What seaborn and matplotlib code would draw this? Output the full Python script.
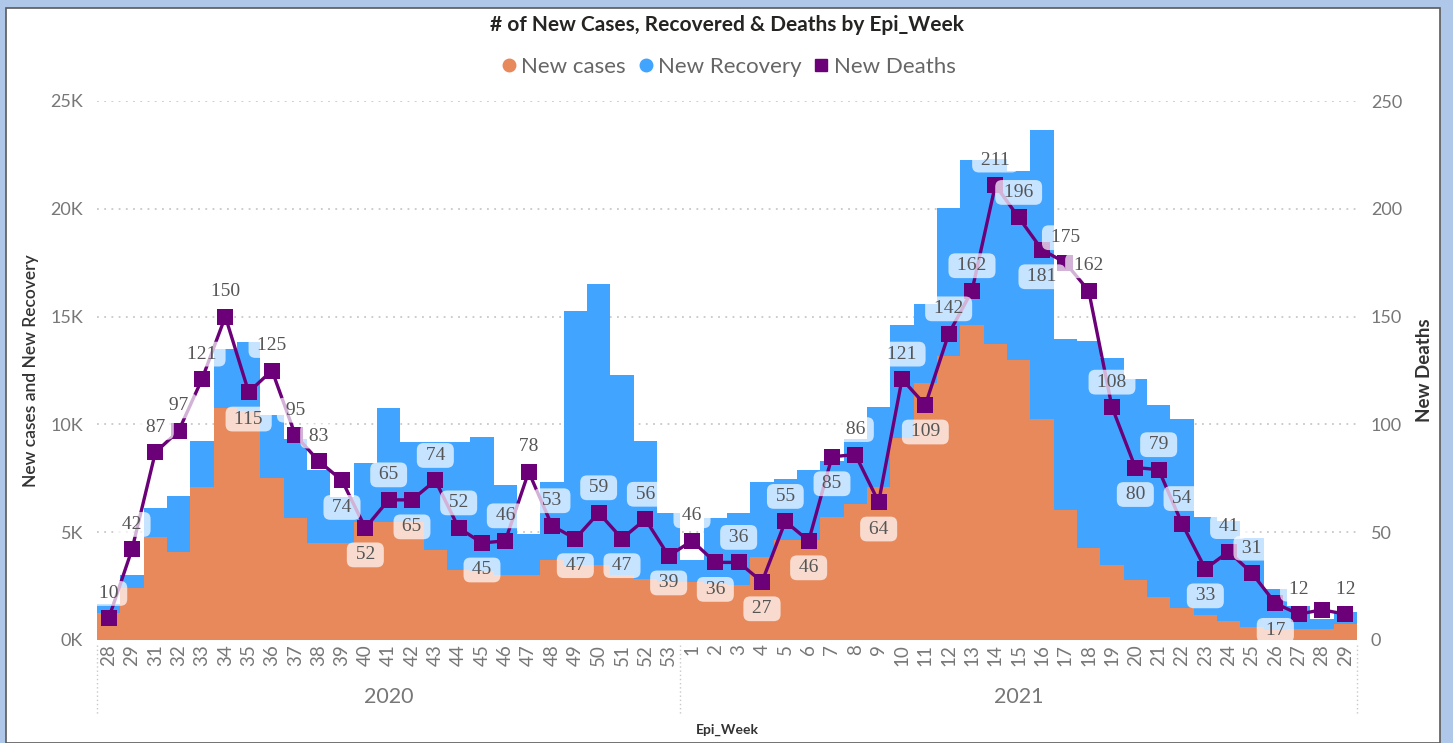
import numpy as np
import pandas as pd
import matplotlib
matplotlib.use("Agg")
import matplotlib.pyplot as plt
import matplotlib.transforms as mtransforms
from matplotlib.lines import Line2D
from matplotlib.patches import Rectangle
from matplotlib.ticker import FuncFormatter, MultipleLocator
import seaborn as sns

# Data (weekly values)
weeks_2020 = [28, 29, 31, 32, 33, 34, 35, 36, 37, 38, 39, 40, 41, 42, 43, 44,
              45, 46, 47, 48, 49, 50, 51, 52, 53]
weeks_2021 = list(range(1, 30))

cases_2020 = [1240, 2400, 4760, 4070, 7080, 10750, 10600, 7530, 5640, 4500,
              4500, 5490, 5490, 5480, 4160, 3250, 3200, 3000, 3000, 3700,
              3500, 3500, 3000, 2840, 2700]
recovery_2020 = [430, 600, 1380, 2610, 2170, 2750, 3240, 2910, 3660, 3400,
                 2150, 2710, 5290, 3690, 5010, 5950, 6200, 4170, 1900, 3650,
                 11740, 13030, 9270, 6400, 3200]
deaths_2020 = [10, 42, 87, 97, 121, 150, 115, 125, 95, 83, 74, 52, 65, 65, 74,
               52, 45, 46, 78, 53, 47, 59, 47, 56, 39]

cases_2021 = [2700, 2600, 2560, 3850, 4660, 4660, 5700, 6300, 7100, 9350,
              11900, 13160, 14600, 13750, 13000, 10240, 6050, 4270, 3500, 2770,
              1980, 1470, 1160, 860, 580, 450, 500, 500, 730]
recovery_2021 = [1030, 3070, 3340, 3480, 2790, 3240, 2600, 3000, 3700, 5250,
                 3700, 6900, 7670, 8550, 8740, 13430, 7910, 9580, 9580, 9330,
                 8920, 8800, 4540, 4640, 4140, 1920, 1100, 470, 580]
deaths_2021 = [46, 36, 36, 27, 55, 46, 85, 86, 64, 121, 109, 142, 162, 211, 196,
               181, 175, 162, 108, 80, 79, 54, 33, 41, 31, 17, 12, 14, 12]

# where each death label sits (u = above, d = below, n = no label)
label_side = list("uuuuuuduuudduduuduuududud" + "udududdududuuuuduuuduuduudunu")

years = ["2020"] * len(weeks_2020) + ["2021"] * len(weeks_2021)
df = pd.DataFrame({
    "year": years,
    "week": weeks_2020 + weeks_2021,
    "cases": cases_2020 + cases_2021,
    "recovery": recovery_2020 + recovery_2021,
    "deaths": deaths_2020 + deaths_2021,
})
df["key"] = df["year"] + "-" + df["week"].astype(str)
df["total"] = df["cases"] + df["recovery"]
df["pos"] = np.arange(len(df))

ORANGE = "#E8895C"
BLUE = "#41A4FF"
PURPLE = "#6B0078"
GREY = "#777777"
DARK = "#333333"

sns.set_theme(style="white")
plt.rcParams["font.family"] = ["Lato", "DejaVu Sans"]

fig = plt.figure(figsize=(14.53, 7.43), dpi=100)
fig.patch.set_facecolor("#AFC7E8")
fig.patches.append(Rectangle((6 / 1453, 0), 1434 / 1453, 1 - 8 / 743,
                             transform=fig.transFigure, facecolor="white",
                             edgecolor="#5a5a5a", linewidth=1.2, zorder=-10))

ax = fig.add_axes([97 / 1453, 1 - 640 / 743, 1260 / 1453, 539 / 743])
ax.patch.set_alpha(0)

# stacked columns: blue total first, orange cases over it
sns.barplot(data=df, x="key", y="total", color=BLUE, width=1.0, saturation=1,
            errorbar=None, linewidth=0, ax=ax)
sns.barplot(data=df, x="key", y="cases", color=ORANGE, width=1.0, saturation=1,
            errorbar=None, linewidth=0, ax=ax)

ax.set_xlim(-0.5, len(df) - 0.5)
ax.set_ylim(0, 25000)
ax.yaxis.set_major_locator(MultipleLocator(5000))
ax.yaxis.set_major_formatter(FuncFormatter(lambda v, _: f"{int(v / 1000)}K"))
ax.set_xticks(df["pos"])
ax.set_xticklabels(df["week"].astype(str), rotation=90, fontsize=13.5, color=GREY)
ax.tick_params(axis="y", labelsize=13, labelcolor=GREY, length=0, pad=10)
ax.tick_params(axis="x", length=0, pad=3)
ax.grid(axis="y", color="#c8c8c8", linestyle=(0, (1, 3)), linewidth=1.3)
ax.set_axisbelow(True)
for s in ax.spines.values():
    s.set_visible(False)
ax.set_xlabel("")
ax.set_ylabel("New cases and New Recovery", fontsize=12.5, color=DARK,
              fontweight="semibold", labelpad=8)

# deaths line on the secondary axis
ax2 = ax.twinx()
sns.lineplot(data=df, x="pos", y="deaths", color=PURPLE, linewidth=2.4,
             marker="s", markersize=11, markeredgewidth=0, ax=ax2)
ax2.set_xlim(-0.5, len(df) - 0.5)
ax2.set_ylim(0, 250)
ax2.yaxis.set_major_locator(MultipleLocator(50))
ax2.tick_params(axis="y", labelsize=13, labelcolor=GREY, length=0, pad=10)
for s in ax2.spines.values():
    s.set_visible(False)
ax2.set_xlabel("")
ax2.set_ylabel("New Deaths", fontsize=13.5, color=DARK, fontweight="bold",
               labelpad=10)

for (_, row), side in zip(df.iterrows(), label_side):
    if side == "n":
        continue
    dy = 25 if side == "u" else -27
    ax2.annotate(f" {row['deaths']} ", (row["pos"], row["deaths"]),
                 xytext=(0, dy), textcoords="offset pixels",
                 ha="center", va="center", fontsize=14, color="#555555",
                 family=["Liberation Serif", "DejaVu Serif"],
                 bbox=dict(boxstyle="round,pad=0.2,rounding_size=0.35",
                           fc="white", ec="none", alpha=0.7))

# year groups under the week labels
trans = mtransforms.blended_transform_factory(ax.transData, ax.transAxes)
n20 = len(weeks_2020)
for x in [-0.5, n20 - 0.5, len(df) - 0.5]:
    ax.plot([x, x], [-0.01, -0.14], transform=trans, clip_on=False,
            color="#c8c8c8", linestyle=(0, (1, 2)), linewidth=1)
ax.text((n20 - 1) / 2, -0.106, "2020", transform=trans, ha="center",
        va="center", fontsize=15.5, color=GREY)
ax.text(n20 + (len(weeks_2021) - 1) / 2, -0.106, "2021", transform=trans,
        ha="center", va="center", fontsize=15.5, color=GREY)
fig.text(727 / 1453, 1 - 730 / 743, "Epi_Week", ha="center", va="center",
         fontsize=10, fontweight="bold", color=DARK)

fig.text(0.5, 1 - 25 / 743, "# of New Cases, Recovered & Deaths by Epi_Week",
         ha="center", va="center", fontsize=15, fontweight="bold",
         color="#252423")

handles = [
    Line2D([], [], marker="o", linestyle="none", color=ORANGE, markersize=9),
    Line2D([], [], marker="o", linestyle="none", color=BLUE, markersize=9),
    Line2D([], [], marker="s", linestyle="none", color=PURPLE, markersize=9),
]
leg = fig.legend(handles, ["New cases", "New Recovery", "New Deaths"],
                 loc="center", bbox_to_anchor=(0.5, 1 - 67 / 743), ncol=3,
                 frameon=False, fontsize=16, handletextpad=0.05,
                 columnspacing=0.4, handlelength=1.0)
for t in leg.get_texts():
    t.set_color("#666666")

fig.savefig("out.png", dpi=100, facecolor=fig.get_facecolor())
